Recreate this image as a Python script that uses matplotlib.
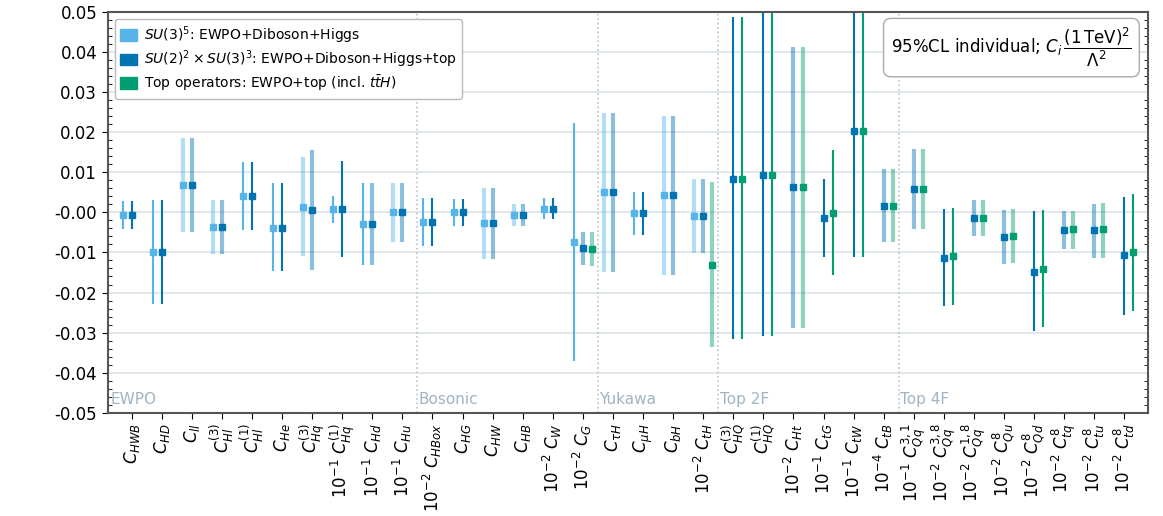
import numpy as np
import matplotlib.pyplot as plt
from matplotlib.patches import Patch
from matplotlib.ticker import MultipleLocator

labels = [r'$C_{HWB}$', r'$C_{HD}$', r'$C_{ll}$', r'$C_{Hl}^{(3)}$', r'$C_{Hl}^{(1)}$',
          r'$C_{He}$', r'$C_{Hq}^{(3)}$', r'$10^{-1}\ C_{Hq}^{(1)}$', r'$10^{-1}\ C_{Hd}$',
          r'$10^{-1}\ C_{Hu}$',
          r'$10^{-2}\ C_{HBox}$', r'$C_{HG}$', r'$C_{HW}$', r'$C_{HB}$', r'$10^{-2}\ C_{W}$',
          r'$10^{-2}\ C_{G}$',
          r'$C_{\tau H}$', r'$C_{\mu H}$', r'$C_{bH}$', r'$10^{-2}\ C_{tH}$',
          r'$C_{HQ}^{(3)}$', r'$C_{HQ}^{(1)}$', r'$10^{-2}\ C_{Ht}$', r'$10^{-1}\ C_{tG}$',
          r'$10^{-1}\ C_{tW}$', r'$10^{-4}\ C_{tB}$',
          r'$10^{-1}\ C_{Qq}^{3,1}$', r'$10^{-2}\ C_{Qq}^{3,8}$', r'$10^{-2}\ C_{Qq}^{1,8}$',
          r'$10^{-2}\ C_{Qu}^{8}$', r'$10^{-2}\ C_{Qd}^{8}$', r'$10^{-2}\ C_{tq}^{8}$',
          r'$10^{-2}\ C_{tu}^{8}$', r'$10^{-2}\ C_{td}^{8}$']

# SU(3)^5 fit (only first 20 operators)
u3_c = [-0.0007, -0.0100, 0.0067, -0.0036, 0.0040, -0.0038, 0.0014, 0.0009, -0.0030, 0.0000,
        -0.0024, 0.0000, -0.0027, -0.0007, 0.0009, -0.0074, 0.0051, -0.0002, 0.0043, -0.0009]
u3_lo = [-0.0042, -0.0228, -0.0050, -0.0104, -0.0045, -0.0147, -0.0108, -0.0027, -0.0131, -0.0074,
         -0.0084, -0.0034, -0.0117, -0.0034, -0.0017, -0.0370, -0.0148, -0.0056, -0.0156, -0.0102]
u3_hi = [0.0028, 0.0030, 0.0185, 0.0032, 0.0126, 0.0072, 0.0137, 0.0040, 0.0072, 0.0072,
         0.0035, 0.0034, 0.0060, 0.0020, 0.0036, 0.0224, 0.0249, 0.0050, 0.0241, 0.0082]
u3_wide = [0, 0, 1, 1, 0, 0, 1, 0, 0, 1,
           0, 0, 1, 1, 0, 0, 1, 0, 1, 1]

# SU(2)^2 x SU(3)^3 fit (all operators)
top_c = [-0.0007, -0.0100, 0.0067, -0.0036, 0.0040, -0.0038, 0.0007, 0.0009, -0.0029, 0.0000,
         -0.0024, 0.0000, -0.0027, -0.0007, 0.0009, -0.0089, 0.0051, -0.0002, 0.0043, -0.0009,
         0.0084, 0.0092, 0.0063, -0.0013, 0.0203, 0.0017,
         0.0059, -0.0114, -0.0015, -0.0061, -0.0150, -0.0044, -0.0045, -0.0107]
top_lo = [-0.0042, -0.0228, -0.0050, -0.0104, -0.0045, -0.0147, -0.0145, -0.0112, -0.0131, -0.0074,
          -0.0084, -0.0034, -0.0117, -0.0034, -0.0017, -0.0131, -0.0148, -0.0056, -0.0156, -0.0102,
          -0.0315, -0.0309, -0.0288, -0.0112, -0.0112, -0.0074,
          -0.0042, -0.0233, -0.0059, -0.0129, -0.0296, -0.0092, -0.0114, -0.0256]
top_hi = [0.0028, 0.0030, 0.0185, 0.0032, 0.0126, 0.0072, 0.0156, 0.0127, 0.0072, 0.0072,
          0.0035, 0.0034, 0.0060, 0.0020, 0.0036, -0.0048, 0.0249, 0.0050, 0.0241, 0.0082,
          0.0486, 0.0500, 0.0413, 0.0084, 0.0600, 0.0107,
          0.0158, 0.0009, 0.0030, 0.0006, 0.0003, 0.0003, 0.0022, 0.0038]
top_wide = [0, 0, 1, 1, 0, 0, 1, 0, 1, 1,
            0, 0, 1, 1, 0, 1, 1, 0, 1, 1,
            0, 0, 1, 0, 0, 1,
            1, 0, 1, 1, 0, 1, 1, 0]

# top-operator fit (C_G, C_tH and the top sector)
tt_idx = [15, 19, 20, 21, 22, 23, 24, 25, 26, 27, 28, 29, 30, 31, 32, 33]
tt_c = [-0.0092, -0.0131, 0.0083, 0.0092, 0.0063, -0.0001, 0.0203, 0.0017,
        0.0059, -0.0110, -0.0013, -0.0059, -0.0141, -0.0042, -0.0042, -0.0100]
tt_lo = [-0.0133, -0.0336, -0.0317, -0.0309, -0.0288, -0.0156, -0.0112, -0.0074,
         -0.0042, -0.0231, -0.0059, -0.0127, -0.0285, -0.0091, -0.0113, -0.0245]
tt_hi = [-0.0050, 0.0075, 0.0486, 0.0500, 0.0413, 0.0156, 0.0600, 0.0107,
         0.0158, 0.0011, 0.0031, 0.0008, 0.0005, 0.0004, 0.0023, 0.0046]
tt_wide = [1, 1, 0, 0, 1, 0, 0, 1,
           1, 0, 1, 1, 0, 1, 1, 0]

sections = ['EWPO', 'Bosonic', 'Yukawa', 'Top 2F', 'Top 4F']
section_start = [0, 10, 16, 20, 26]

c_light = '#56B4E9'
c_dark = '#0173B2'
c_green = '#029E73'


def draw(ax, x, c, lo, hi, wide, color):
    for xi, ci, li, hi_, w in zip(x, c, lo, hi, wide):
        if w:
            ax.vlines(xi, li, hi_, color=color, lw=3.0, alpha=0.45, zorder=2)
        else:
            ax.vlines(xi, li, hi_, color=color, lw=1.5, zorder=2)
        ax.plot(xi, ci, 's', color=color, ms=4.5, zorder=3)


fig = plt.figure(figsize=(11.63, 5.16), dpi=100)
ax = fig.add_axes([0.0925, 0.2, 0.895, 0.777])

x = np.arange(len(labels))
draw(ax, x[:20] - 0.3, u3_c, u3_lo, u3_hi, u3_wide, c_light)
draw(ax, x, top_c, top_lo, top_hi, top_wide, c_dark)
draw(ax, x[tt_idx] + 0.3, tt_c, tt_lo, tt_hi, tt_wide, c_green)

ax.set_xlim(-0.8, 33.8)
ax.set_ylim(-0.05, 0.05)
ax.set_xticks(x)
ax.set_xticklabels(labels, rotation=90, fontsize=12)
ax.yaxis.set_major_locator(MultipleLocator(0.01))
ax.yaxis.set_minor_locator(MultipleLocator(0.002))
ax.yaxis.set_major_formatter(plt.FormatStrFormatter('%.2f'))
ax.tick_params(axis='y', which='major', labelsize=12, direction='out', length=4)
ax.tick_params(axis='y', which='minor', direction='in', length=3, right=True)
ax.tick_params(axis='x', direction='out', length=4)
ax.grid(axis='y', color='#dde3e8', lw=1.2)
ax.set_axisbelow(True)
for sp in ax.spines.values():
    sp.set_color('#555555')
    sp.set_linewidth(1.5)

for name, s in zip(sections, section_start):
    if s > 0:
        ax.axvline(s - 0.5, color='#b8c4cc', ls=':', lw=1.2, zorder=1)
    ax.text(s - 0.45 if s > 0 else -0.7, -0.0485, name, color='#9fb4c4', fontsize=11,
            ha='left', va='bottom')

handles = [Patch(color=c_light), Patch(color=c_dark), Patch(color=c_green)]
leg_labels = [r'$SU(3)^5$: EWPO+Diboson+Higgs',
              r'$SU(2)^2\times SU(3)^3$: EWPO+Diboson+Higgs+top',
              r'Top operators: EWPO+top (incl. $t\bar{t}H$)']
ax.legend(handles, leg_labels, loc='upper left', fontsize=10, handlelength=1.2,
          handleheight=0.9, handletextpad=0.5, framealpha=1, edgecolor='#bbbbbb',
          borderpad=0.4, labelspacing=0.2)

ax.text(0.984, 0.965, r'95%CL individual; $C_i\,\dfrac{(1\,\mathrm{TeV})^2}{\Lambda^2}$',
        transform=ax.transAxes, ha='right', va='top', fontsize=12,
        bbox=dict(boxstyle='round,pad=0.45', fc='white', ec='#aaaaaa'))

fig.savefig('out.png', dpi=100)
